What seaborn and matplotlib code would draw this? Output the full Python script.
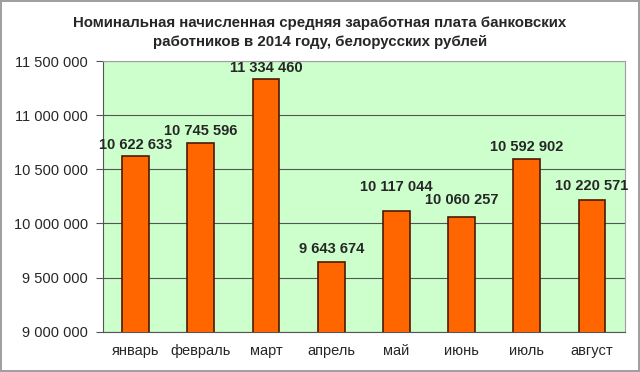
import numpy as np
import pandas as pd
import seaborn as sns
from matplotlib import pyplot as plt
from matplotlib.ticker import FuncFormatter

months = ['январь', 'февраль', 'март', 'апрель', 'май', 'июнь', 'июль', 'август']
salary = [10622633, 10745596, 11334460, 9643674, 10117044, 10060257, 10592902, 10220571]
# vertical label offsets in points, as placed in the original chart
label_dy = [3, 3.5, 2.5, 4.5, 12, 7, 4, 5]

title = 'Номинальная начисленная средняя заработная плата банковских\nработников в 2014 году, белорусских рублей'

df = pd.DataFrame({'month': months, 'salary': salary})

sns.set_style('white')
plt.rcParams['font.family'] = ['Liberation Sans', 'DejaVu Sans']

fig = plt.figure(figsize=(6.4, 3.72), dpi=100)
fig.patch.set_edgecolor('#a0a0a0')
fig.patch.set_linewidth(1.5)
ax = fig.add_axes([0.161, 0.108, 0.815, 0.728])

sns.barplot(data=df, x='month', y='salary', color='#ff6600', width=0.41,
            edgecolor='#4d1a00', linewidth=1.2, saturation=1, ax=ax, zorder=3)

ax.set_facecolor('#ccffcc')
ax.set_ylim(9000000, 11500000)
ax.set_xlim(-0.5, len(months) - 0.5)
ax.set_yticks(np.arange(9000000, 11500001, 500000))
ax.yaxis.set_major_formatter(FuncFormatter(lambda v, p: f'{int(v):,}'.replace(',', ' ')))
ax.grid(axis='y', color='#555555', linewidth=0.8, zorder=0)
ax.set_xlabel('')
ax.set_ylabel('')
ax.tick_params(axis='both', labelsize=10.5, length=0, pad=6)
ax.tick_params(axis='x', pad=9)
for s in ['top', 'right']:
    ax.spines[s].set_color('#a0a0a0')
for s in ['left', 'bottom']:
    ax.spines[s].set_color('#555555')

# category boundary ticks like Excel
ax.set_xticks(np.arange(-0.5, len(months) - 0.4, 1), minor=True)
ax.tick_params(axis='x', which='minor', length=5, color='#555555', direction='out')
ax.tick_params(axis='y', length=5, color='#555555', direction='out', left=True)

for i, v in enumerate(salary):
    ax.annotate(f'{v:,}'.replace(',', ' '), (i, v), xytext=(0, label_dy[i]),
                textcoords='offset points', ha='center', va='bottom',
                fontsize=10.5, fontweight='bold', zorder=4)

fig.text(0.5, 0.957, title, ha='center', va='top', fontsize=10.8, fontweight='bold',
         linespacing=1.5)

fig.savefig('out.png', dpi=100)
